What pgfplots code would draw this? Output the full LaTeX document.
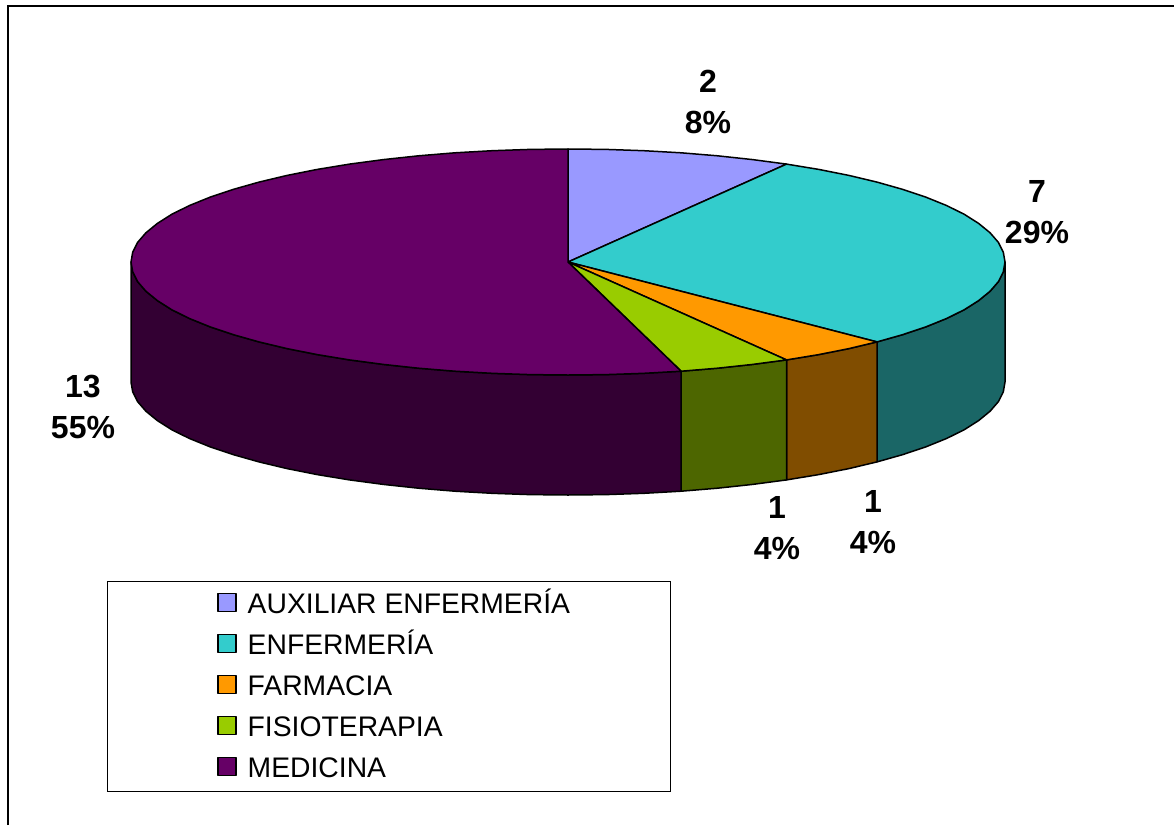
\documentclass[border=0pt]{standalone}
\usepackage{pgfplots}
\pgfplotsset{compat=1.18}
\usepackage{fontspec}
\setmainfont{Liberation Sans}
\definecolor{aux}{HTML}{9999FF}
\definecolor{enf}{HTML}{33CCCC}
\definecolor{far}{HTML}{FF9900}
\definecolor{fis}{HTML}{99CC00}
\definecolor{med}{HTML}{660066}
\definecolor{enfd}{HTML}{1A6666}
\definecolor{fard}{HTML}{804D00}
\definecolor{fisd}{HTML}{4D6600}
\definecolor{medd}{HTML}{330033}
\tikzset{
  slice/.style={draw=black, line width=1.5pt, line join=round},
  lab/.style={font=\fontsize{32}{41}\selectfont\bfseries, align=center, inner sep=0pt},
}
\begin{document}
\begin{tikzpicture}
\begin{axis}[
  scale only axis, width=1174pt, height=825pt,
  xmin=0, xmax=1174, ymin=0, ymax=825, y dir=reverse,
  hide axis,
  legend style={at={(axis cs:217,592)}, anchor=north west, draw=none, fill=none,
    inner sep=0pt, row sep=20pt, column sep=11pt,
    font=\fontsize{28.3}{34}\selectfont,
    nodes={inner xsep=0pt, inner ysep=0pt, text height=21pt, text depth=0pt}},
  legend cell align=left,
  legend image code/.code={\draw[#1, line width=1.5pt, draw=black] (0pt,-9pt) rectangle (18pt,9pt);},
]
% page background and frame
\addplot[forget plot, fill=white, draw=none] coordinates {(0,0) (1174,0) (1174,825) (0,825)} --cycle;
\addplot[forget plot, black, line width=2pt] coordinates {(8,825) (8,6) (1174,6)};
% legend box
\addplot[forget plot, black, line width=1pt, fill=white] coordinates {(107,581.5) (670,581.5) (670,791.5) (107,791.5)} --cycle;

% side walls
\addplot[forget plot, slice, fill=enfd] coordinates {
  (1005,262) (1003.3,271.8) (998.4,281.6) (990.1,291.2) (978.6,300.6) (964.1,309.8) (946.5,318.5) (926,326.8) (902.8,334.6) (877,341.9)
  (877,461.9) (902.8,454.6) (926,446.8) (946.5,438.5) (964.1,429.8) (978.6,420.6) (990.1,411.2) (998.4,401.6) (1003.3,391.8) (1005,382)} --cycle;
\addplot[forget plot, slice, fill=fard] coordinates {
  (877,341.9) (848.9,348.6) (818.7,354.6) (786.5,359.9)
  (786.5,479.9) (818.7,474.6) (848.9,468.6) (877,461.9)} --cycle;
\addplot[forget plot, slice, fill=fisd] coordinates {
  (786.5,359.9) (752.7,364.4) (717.5,368.2) (681.1,371.2)
  (681.1,491.2) (717.5,488.2) (752.7,484.4) (786.5,479.9)} --cycle;
\addplot[forget plot, slice, fill=medd] coordinates {
  (681.1,371.2) (643.9,373.3) (606.1,374.6) (568,375) (529.9,374.6) (492.1,373.3) (454.9,371.2) (418.5,368.2) (383.3,364.4) (349.5,359.9)
  (317.3,354.6) (287.1,348.6) (259,341.9) (233.2,334.6) (210,326.8) (189.5,318.5) (171.9,309.8) (157.4,300.6) (145.9,291.2) (137.6,281.6) (132.7,271.8) (131,262)
  (131,382) (132.7,391.8) (137.6,401.6) (145.9,411.2) (157.4,420.6) (171.9,429.8) (189.5,438.5) (210,446.8) (233.2,454.6) (259,461.9) (287.1,468.6) (317.3,474.6)
  (349.5,479.9) (383.3,484.4) (418.5,488.2) (454.9,491.2) (492.1,493.3) (529.9,494.6) (568,495) (606.1,494.6) (643.9,493.3) (681.1,491.2)} --cycle;

% top faces, 2 / 7 / 1 / 1 / 13 of 24
\addplot[slice, fill=aux] coordinates {
  (568,262) (568,149) (606.1,149.4) (643.9,150.7) (681.1,152.8) (717.5,155.8) (752.7,159.6) (786.5,164.1)} --cycle;
\addlegendentry{AUXILIAR ENFERMERÍA}
\addplot[slice, fill=enf] coordinates {
  (568,262) (786.5,164.1) (818.7,169.4) (848.9,175.4) (877,182.1) (902.8,189.4) (926,197.2) (946.5,205.5) (964.1,214.2) (978.6,223.4) (990.1,232.8) (998.4,242.4) (1003.3,252.2) (1005,262)
  (1003.3,271.8) (998.4,281.6) (990.1,291.2) (978.6,300.6) (964.1,309.8) (946.5,318.5) (926,326.8) (902.8,334.6) (877,341.9)} --cycle;
\addlegendentry{ENFERMERÍA}
\addplot[slice, fill=far] coordinates {
  (568,262) (877,341.9) (848.9,348.6) (818.7,354.6) (786.5,359.9)} --cycle;
\addlegendentry{FARMACIA}
\addplot[slice, fill=fis] coordinates {
  (568,262) (786.5,359.9) (752.7,364.4) (717.5,368.2) (681.1,371.2)} --cycle;
\addlegendentry{FISIOTERAPIA}
\addplot[slice, fill=med] coordinates {
  (568,262) (681.1,371.2) (643.9,373.3) (606.1,374.6) (568,375) (529.9,374.6) (492.1,373.3) (454.9,371.2) (418.5,368.2) (383.3,364.4) (349.5,359.9)
  (317.3,354.6) (287.1,348.6) (259,341.9) (233.2,334.6) (210,326.8) (189.5,318.5) (171.9,309.8) (157.4,300.6) (145.9,291.2) (137.6,281.6) (132.7,271.8) (131,262)
  (132.7,252.2) (137.6,242.4) (145.9,232.8) (157.4,223.4) (171.9,214.2) (189.5,205.5) (210,197.2) (233.2,189.4) (259,182.1) (287.1,175.4) (317.3,169.4)
  (349.5,164.1) (383.3,159.6) (418.5,155.8) (454.9,152.8) (492.1,150.7) (529.9,149.4) (568,149)} --cycle;
\addlegendentry{MEDICINA}

% value labels
\node[lab] at (axis cs:708,102) {2\\8\%};
\node[lab] at (axis cs:1037,212) {7\\29\%};
\node[lab] at (axis cs:873,522) {1\\4\%};
\node[lab] at (axis cs:777,528) {1\\4\%};
\node[lab] at (axis cs:83,407) {13\\55\%};
\end{axis}
\end{tikzpicture}
\end{document}
